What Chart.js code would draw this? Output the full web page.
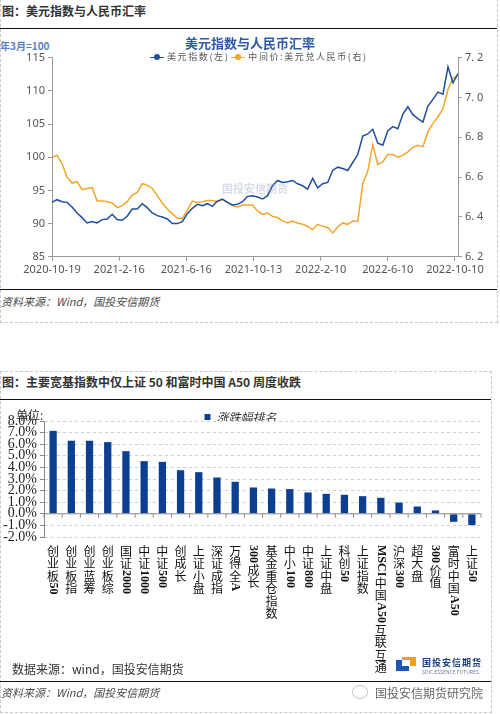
<!DOCTYPE html>
<html>
<head>
<meta charset="utf-8">
<script src="https://cdn.jsdelivr.net/npm/chart.js@4.4.1/dist/chart.umd.min.js"></script>
<style>
  body { margin: 0; width: 500px; height: 714px; position: relative; background: #fff; overflow: hidden;
         font-family: "Noto Sans CJK SC", "Noto Sans", sans-serif; }
  .box { position: absolute; border: 1px dashed #c9c9c9; box-sizing: border-box; }
  .hd { position: absolute; left: 2px; font-size: 12px; font-weight: bold; color: #333; line-height: 16px; white-space: nowrap; }
  .rule { position: absolute; left: 0; height: 0; border-top: 1.5px solid #111; }
  .src { position: absolute; left: 1px; font-size: 11px; font-style: italic; color: #4a4a4a; line-height: 14px; }
  .cv { position: absolute; left: 0; }
  .lg { position: absolute; top: 51px; left: 150px; font-size: 9px; color: #555; white-space: nowrap; line-height: 12px; letter-spacing: 1.6px; }
  .ico { display: inline-block; width: 14px; height: 1.5px; position: relative; vertical-align: middle; margin-right: 3px; }
  .ico::after { content: ''; position: absolute; left: 4px; top: -2.5px; width: 6px; height: 6px; border-radius: 50%; background: inherit; }
</style>
</head>
<body>
<!-- panel 1 -->
<div class="box" style="left:0;top:-1px;width:498px;height:324px"></div>
<div class="hd" style="top:3px">图：美元指数与人民币汇率</div>
<div class="rule" style="top:28px;width:497px"></div>
<div style="position:absolute;left:0;top:38px;font-size:10px;font-weight:bold;color:#5b7fc4">年3月=100</div>
<canvas id="fx" class="cv" width="500" height="250" style="top:33px"></canvas>
<div class="lg"><span class="ico" style="background:#1f4e9e"></span>美元指数(左)<span class="ico" style="background:#f3a628;margin-left:2px"></span>中间价:美元兑人民币(右)</div>
<div style="position:absolute;left:222px;top:180px;font-size:11px;color:rgba(140,155,185,0.35);font-weight:bold">国投安信期货</div>
<div class="rule" style="top:289px;width:497px"></div>
<div class="src" style="top:294px">资料来源：Wind，国投安信期货</div>

<!-- panel 2 -->
<div class="box" style="left:0;top:371px;width:492px;height:342px"></div>
<div class="hd" style="top:374px">图：主要宽基指数中仅上证 50 和富时中国 A50 周度收跌</div>
<div class="rule" style="top:399px;width:491px"></div>
<canvas id="wk" class="cv" width="491" height="271" style="top:407px"></canvas>
<div style="position:absolute;left:16px;top:406px;font-size:12px;color:#333">单位:</div>
<div style="position:absolute;left:12px;top:660px;font-size:12px;color:#333">数据来源：wind，国投安信期货</div>
<div style="position:absolute;left:396px;top:657px;width:20px;height:14px">
  <div style="position:absolute;left:0;top:3px;width:13px;height:11px;background:#1b57b0"></div>
  <div style="position:absolute;left:6px;top:0;width:14px;height:9px;background:#f0a020"></div>
  <div style="position:absolute;left:6px;top:3px;width:8px;height:6px;background:#fff"></div>
</div>
<div style="position:absolute;left:422px;top:656px;font-size:9px;color:#1b3f7a;font-weight:bold;letter-spacing:1px">国投安信期货</div>
<div style="position:absolute;left:422px;top:668px;font-size:5px;color:#6a7a9a">SDIC ESSENCE FUTURES</div>
<div class="rule" style="top:681px;width:491px"></div>
<div class="src" style="top:685px">资料来源：Wind，国投安信期货</div>
<div style="position:absolute;left:352px;top:685px;width:14px;height:12px;border:1px solid #ccc;border-radius:50%"></div>
<div style="position:absolute;left:375px;top:684px;font-size:12px;color:#666">国投安信期货研究院</div>

<script>
// ---- chart 1: 美元指数与人民币汇率 ----
const fxTickLabels = ["2020-10-19", "2021-2-16", "2021-6-16", "2021-10-13", "2022-2-10", "2022-6-10", "2022-10-10"];
const fxTickPos = [0, 13.4, 26.8, 40.2, 53.6, 67, 80.4];

const usdIndex = [
  93.2, 93.6, 93.3, 93.2, 92.5, 91.6, 90.9, 90.1, 90.3, 90.1,
  90.6, 90.7, 91.4, 90.6, 90.5, 91.1, 92.2, 92.2, 93.0, 92.4,
  91.6, 91.2, 91.0, 90.7, 90.0, 90.0, 90.3, 91.5, 92.3, 92.9,
  92.7, 93.0, 92.6, 93.4, 93.7, 93.2, 92.8, 92.9, 93.3, 94.1,
  94.2, 94.0, 93.7, 94.2, 95.7, 96.5, 96.2, 96.3, 96.5, 96.0,
  95.7, 95.2, 96.8, 95.4, 96.0, 96.2, 98.0, 98.5, 98.3, 98.0,
  99.2, 100.4, 103.2, 103.5, 104.2, 102.1, 101.8, 104.0, 104.6, 104.3,
  106.5, 107.6, 106.4, 105.8, 105.3, 107.7, 108.7, 109.8, 109.5, 113.6,
  111.2, 112.6
];
const usdCny = [
  6.700, 6.710, 6.667, 6.600, 6.570, 6.577, 6.537, 6.543, 6.547, 6.480,
  6.480, 6.477, 6.470, 6.447, 6.457, 6.477, 6.510, 6.523, 6.567, 6.560,
  6.543, 6.507, 6.470, 6.440, 6.417, 6.393, 6.393, 6.433, 6.480, 6.473,
  6.477, 6.483, 6.483, 6.477, 6.487, 6.473, 6.457, 6.450, 6.460, 6.460,
  6.460, 6.430, 6.413, 6.420, 6.403, 6.397, 6.380, 6.370, 6.380, 6.370,
  6.363, 6.353, 6.337, 6.363, 6.353, 6.347, 6.320, 6.350, 6.370, 6.363,
  6.380, 6.377, 6.567, 6.630, 6.763, 6.663, 6.677, 6.713, 6.713, 6.700,
  6.710, 6.727, 6.750, 6.760, 6.753, 6.827, 6.870, 6.903, 6.943, 7.040,
  7.097, 7.110
];

const axisFont = { family: "'Noto Sans', sans-serif", size: 11 };

new Chart(document.getElementById("fx"), {
  type: "line",
  data: {
    datasets: [
      {
        label: "美元指数(左)",
        data: usdIndex.map((v, i) => ({ x: i, y: v })),
        borderColor: "#1f4e9e",
        borderWidth: 1.5,
        yAxisID: "yL",
      },
      {
        label: "中间价:美元兑人民币(右)",
        data: usdCny.map((v, i) => ({ x: i, y: v })),
        borderColor: "#f3a628",
        borderWidth: 1.5,
        yAxisID: "yR",
      },
    ],
  },
  options: {
    animation: false,
    responsive: false,
    layout: { padding: { top: 2, bottom: 5, left: 0, right: 0 } },
    elements: { point: { radius: 0 }, line: { tension: 0 } },
    plugins: {
      legend: { display: false },
      tooltip: { enabled: false },
      title: {
        display: true,
        text: "美元指数与人民币汇率",
        color: "#2e5aa6",
        font: { family: "'Noto Sans CJK SC'", size: 13, weight: "bold" },
        padding: { top: 0, bottom: 7 },
      },
    },
    scales: {
      x: {
        type: "linear",
        min: 0,
        max: usdIndex.length - 1,
        afterBuildTicks: (s) => { s.ticks = fxTickPos.map((v) => ({ value: v })); },
        ticks: {
          autoSkip: false,
          maxRotation: 0,
          color: "#555",
          font: axisFont,
          padding: 2,
          callback: (v, i) => fxTickLabels[i],
        },
        grid: { drawOnChartArea: false, tickLength: 4, color: "#999" },
        border: { color: "#999" },
      },
      yL: {
        position: "left",
        min: 85,
        max: 115,
        ticks: { stepSize: 5, color: "#555", font: axisFont, padding: 3 },
        grid: { drawOnChartArea: false, tickLength: 4, color: "#999" },
        border: { color: "#999" },
        afterFit: (s) => { s.width = 52; },
      },
      yR: {
        position: "right",
        min: 6.2,
        max: 7.2,
        ticks: {
          stepSize: 0.2,
          color: "#555",
          font: axisFont,
          padding: 3,
          callback: (v) => v.toFixed(1).replace(".", ". "),
        },
        grid: { drawOnChartArea: false, tickLength: 4, color: "#999" },
        border: { color: "#999" },
        afterFit: (s) => { s.width = 42; },
      },
    },
  },
});

// ---- chart 2: 周度涨跌幅 ----
const indexNames = [
  "创业板50", "创业板指", "创业蓝筹", "创业板综", "国证2000", "中证1000", "中证500", "创成长",
  "上证小盘", "深证成指", "万得全A", "300成长", "基金重仓指数", "中小100", "中证800", "上证中盘",
  "科创50", "上证指数", "MSCI中国A50互联互通", "沪深300", "超大盘", "300价值", "富时中国A50", "上证50"
];
const weeklyChange = [
  7.15, 6.30, 6.30, 6.18, 5.40, 4.54, 4.48, 3.76,
  3.59, 3.13, 2.76, 2.27, 2.18, 2.13, 1.84, 1.72,
  1.64, 1.52, 1.38, 0.97, 0.63, 0.29, -0.69, -0.98
];

// zero line with category tick marks, like the excel axis crossing at 0
const zeroAxis = {
  id: "zeroAxis",
  afterDatasetsDraw(chart) {
    const { ctx, chartArea } = chart;
    const xs = chart.scales.x;
    const y0 = chart.scales.y.getPixelForValue(0);
    ctx.save();
    ctx.strokeStyle = "#8c8c8c";
    ctx.lineWidth = 1;
    ctx.beginPath();
    ctx.moveTo(chartArea.left, y0);
    ctx.lineTo(chartArea.right, y0);
    for (let i = 0; i <= indexNames.length; i++) {
      const x = i === 0 ? chartArea.left
        : i === indexNames.length ? chartArea.right
        : (xs.getPixelForValue(i - 1) + xs.getPixelForValue(i)) / 2;
      ctx.moveTo(x, y0);
      ctx.lineTo(x, y0 + 4);
    }
    ctx.stroke();
    ctx.restore();
  },
};

// vertical category labels: chinese upright, latin/digits turned
const vLabels = {
  id: "vLabels",
  afterDraw(chart) {
    const { ctx, chartArea } = chart;
    const xs = chart.scales.x;
    ctx.save();
    ctx.fillStyle = "#111";
    ctx.textAlign = "center";
    ctx.textBaseline = "middle";
    indexNames.forEach((name, i) => {
      const x = xs.getPixelForValue(i);
      let y = chartArea.bottom + 8;
      name.match(/[A-Za-z0-9]+|[^A-Za-z0-9]/g).forEach((part) => {
        if (/^[A-Za-z0-9]+$/.test(part)) {
          ctx.font = "bold 12px 'Liberation Serif'";
          const w = ctx.measureText(part).width;
          ctx.save();
          ctx.translate(x, y + w / 2);
          ctx.rotate(Math.PI / 2);
          ctx.fillText(part, 0, 0);
          ctx.restore();
          y += w + 1;
        } else {
          ctx.font = "12px 'Noto Sans CJK SC'";
          ctx.fillText(part, x, y + 6);
          y += 12.5;
        }
      });
    });
    ctx.restore();
  },
};

new Chart(document.getElementById("wk"), {
  type: "bar",
  data: {
    labels: indexNames,
    datasets: [
      {
        label: "涨跌幅排名",
        data: weeklyChange,
        backgroundColor: "#0c3f92",
        categoryPercentage: 1,
        barPercentage: 0.4,
      },
    ],
  },
  plugins: [zeroAxis, vLabels],
  options: {
    animation: false,
    responsive: false,
    layout: { padding: { top: 0, right: 10, bottom: 0, left: 0 } },
    plugins: {
      tooltip: { enabled: false },
      legend: {
        position: "top",
        align: "center",
        maxHeight: 14,
        labels: {
          boxWidth: 6,
          boxHeight: 6,
          padding: 4,
          color: "#333",
          font: { family: "'Noto Sans CJK SC'", size: 12, style: "italic" },
        },
      },
    },
    scales: {
      x: {
        ticks: { display: false },
        grid: { display: false },
        border: { display: false },
        afterFit: (s) => { s.height = 141; },
      },
      y: {
        min: -2,
        max: 8,
        ticks: {
          stepSize: 1,
          autoSkip: false,
          color: "#222",
          padding: 3,
          font: { family: "'Liberation Serif'", size: 14 },
          callback: (v) => v.toFixed(1) + "%",
        },
        grid: { color: "#cfcfcf", tickColor: "#888", tickLength: 4 },
        border: { color: "#888", dash: [3, 3] },
        afterFit: (s) => { s.width = 44; },
      },
    },
  },
});
</script>
</body>
</html>
